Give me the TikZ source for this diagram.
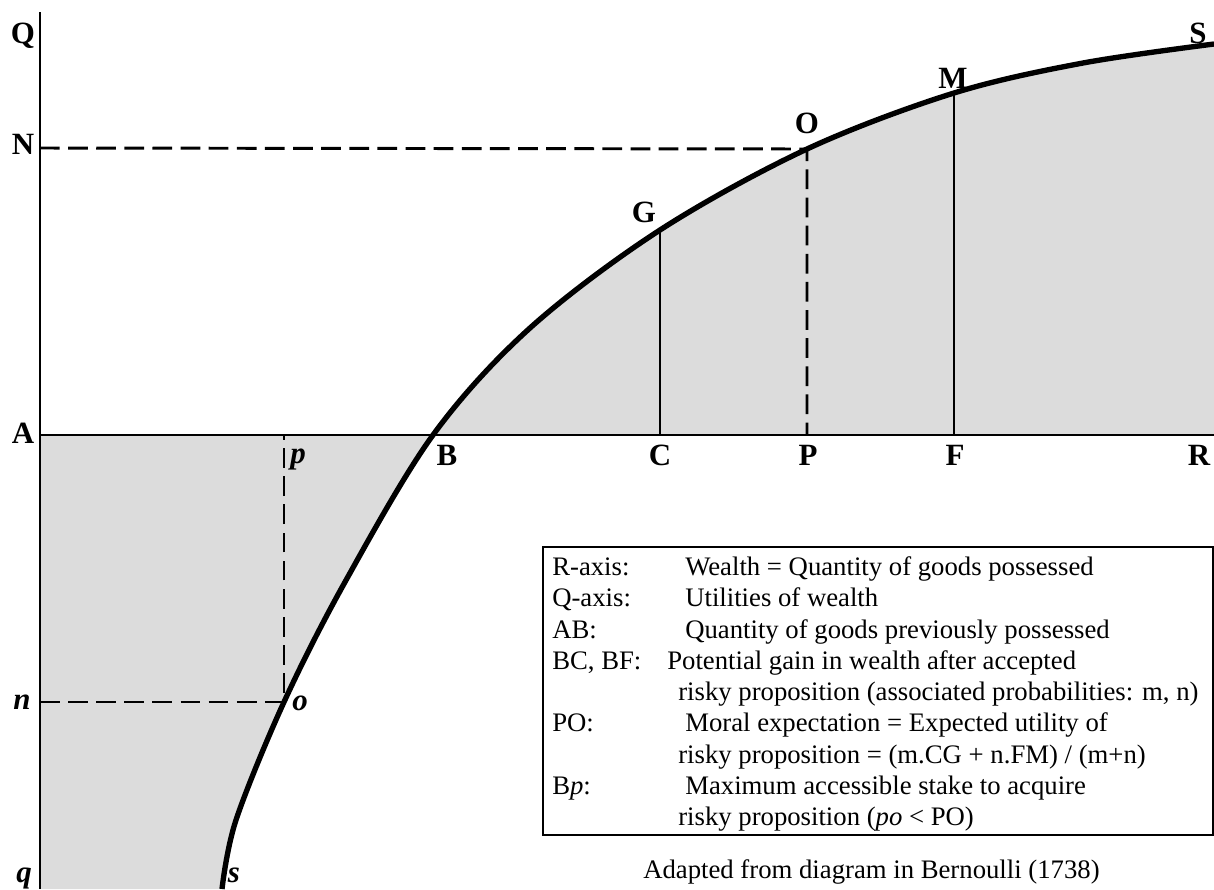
\documentclass[tikz,border=0pt]{standalone}
\usepackage{fontspec}
\setmainfont{Liberation Serif}
\usetikzlibrary{positioning}
\definecolor{areagray}{HTML}{DCDCDC}

\begin{document}
\begin{tikzpicture}[x=0.025cm, y=-0.025cm,
    axis/.style={line width=1.4pt},
    curve/.style={line width=3.8pt, line join=round},
    guide/.style={line width=2.1pt, dash pattern=on 14pt off 6pt},
    ordinate/.style={line width=1pt},
    pointlabel/.style={font=\fontsize{22}{26}\selectfont\bfseries, inner sep=0pt, anchor=base},
    varlabel/.style={font=\fontsize{22}{26}\selectfont\bfseries\itshape, inner sep=0pt, anchor=base},
    legendtext/.style={font=\fontsize{19}{22}\selectfont, inner sep=0pt, anchor=base west}
]
\useasboundingbox (0,0) rectangle (1214,889);

\coordinate (Qtop) at (40,12);
\coordinate (qbot) at (40,889);
\coordinate (A) at (40,435);
\coordinate (R) at (1214,435);
\coordinate (N) at (40,148);
\coordinate (n) at (40,702);
\coordinate (p) at (284,435);
\coordinate (C) at (660,435);
\coordinate (P) at (807,435);
\coordinate (F) at (954,435);

\coordinate (s) at (222,889);
\coordinate (c1) at (236,820);
\coordinate (o) at (284,702);
\coordinate (c2) at (345,582);
\coordinate (B) at (433,435);
\coordinate (c3) at (530,328);
\coordinate (G) at (660,230);
\coordinate (O) at (807,149);
\coordinate (M) at (954,93);
\coordinate (c4) at (1083,63);
\coordinate (S) at (1214,44);

\fill[areagray] plot[smooth, tension=0.55] coordinates {(s) (c1) (o) (c2) (B) (c3) (G) (O) (M) (c4) (S)}
    -- (R) -- (A) -- (qbot) -- cycle;

\draw[guide] (N) -- (O) -- (P);
\draw[guide] (n) -- (o) -- (p);
\draw[ordinate] (C) -- (G);
\draw[ordinate] (F) -- (M);
\draw[axis] (Qtop) -- (qbot);
\draw[axis] (A) -- (R);

\draw[curve] plot[smooth, tension=0.55] coordinates {(s) (c1) (o) (c2) (B) (c3) (G) (O) (M) (c4) (S)};

\node[pointlabel] (Qlab) at (23,43) {Q};
\node[pointlabel] (Nlab) at (23,154) {N};
\node[pointlabel] (Alab) at (23,443) {A};
\node[varlabel] (nlab) at (22,709) {n};
\node[varlabel] (qlab) at (24,882) {q};
\node[varlabel] (plab) at (298,463) {p};
\node[varlabel] (olab) at (300,710) {o};
\node[varlabel] (slab) at (234,882) {s};
\node[pointlabel] (Blab) at (447,465) {B};
\node[pointlabel] (Clab) at (660,465) {C};
\node[pointlabel] (Plab) at (808,465) {P};
\node[pointlabel] (Flab) at (955,465) {F};
\node[pointlabel] (Rlab) at (1199,465) {R};
\node[pointlabel] (Glab) at (644,222) {G};
\node[pointlabel] (Olab) at (807,133) {O};
\node[pointlabel] (Mlab) at (953,88) {M};
\node[pointlabel] (Slab) at (1198,43) {S};

\draw[axis] (543,547) rectangle (1213,835);
\node[legendtext] (key1) at (552,575) {R-axis:};
\node[legendtext] (val1) at (685,575) {Wealth = Quantity of goods possessed};
\node[legendtext] (key2) at (552,606) {Q-axis:};
\node[legendtext] (val2) at (685,606) {Utilities of wealth};
\node[legendtext] (key3) at (552,638) {AB:};
\node[legendtext] (val3) at (685,638) {Quantity of goods previously possessed};
\node[legendtext] (key4) at (552,669) {BC, BF:};
\node[legendtext] (val4) at (667,669) {Potential gain in wealth after accepted};
\node[legendtext] (val4b) at (678,700) {risky proposition (associated probabilities: m, n)};
\node[legendtext] (key5) at (552,731) {PO:};
\node[legendtext] (val5) at (685,731) {Moral expectation = Expected utility of};
\node[legendtext] (val5b) at (678,763) {risky proposition = (m.CG + n.FM) / (m+n)};
\node[legendtext] (key6) at (552,794) {B\textit{p}:};
\node[legendtext] (val6) at (685,794) {Maximum accessible stake to acquire};
\node[legendtext] (val6b) at (678,825) {risky proposition (\textit{po} < PO)};

\node[legendtext] (source) at (643,878) {Adapted from diagram in Bernoulli (1738)};

\end{tikzpicture}
\end{document}
